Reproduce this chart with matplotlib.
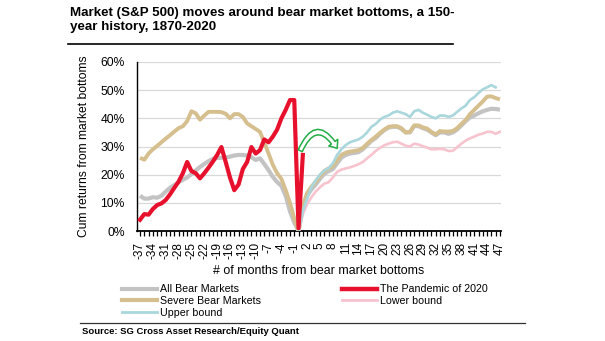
import numpy as np
import matplotlib
matplotlib.use("Agg")
import matplotlib.pyplot as plt
from matplotlib.lines import Line2D
from matplotlib.patches import FancyArrowPatch

plt.rcParams['font.family'] = ['Liberation Sans', 'DejaVu Sans']

# Months relative to the bear market bottom
months = np.arange(-37, 48)

# Cumulative returns (%) from the market bottom
all_bear = [12.5, 11.5, 11.5, 12.0, 11.8, 12.5, 14.0, 15.3, 16.3, 17.3,
            18.2, 19.0, 20.2, 21.5, 22.7, 23.8, 24.8, 25.6, 25.9, 26.0,
            26.1, 26.4, 26.8, 27.0, 27.0, 26.8, 26.2, 25.2, 25.8, 23.8,
            21.6, 19.2, 17.4, 16.0, 12.5, 7.0, 3.0, 0.0,
            8.0, 12.5, 14.8, 16.5, 18.5, 20.3, 21.2, 22.0, 24.0, 26.0,
            27.0, 27.5, 27.7, 28.0, 29.0, 30.5, 32.0, 33.0, 34.5, 35.8,
            36.7, 37.0, 37.0, 36.3, 35.0, 35.0, 37.3, 37.2, 36.5, 36.0,
            35.0, 34.0, 35.0, 35.0, 34.5, 35.0, 36.0, 37.5, 39.0, 40.3,
            41.0, 41.8, 42.5, 43.0, 43.4, 43.3, 43.1]

severe_bear = [26.0, 25.3, 27.5, 29.0, 30.2, 31.5, 32.8, 34.0, 35.3, 36.5,
               37.2, 39.0, 42.5, 41.8, 39.5, 41.0, 42.3, 42.3, 42.3, 42.2,
               41.6, 40.0, 41.5, 41.5, 40.5, 38.2, 37.2, 36.2, 35.2, 31.5,
               27.5, 23.5, 20.5, 18.5, 14.5, 10.0, 4.5, 0.0,
               9.0, 13.5, 15.7, 17.5, 19.5, 21.3, 22.2, 23.0, 25.0, 27.0,
               27.8, 28.2, 28.4, 28.7, 29.5, 31.0, 32.3, 33.5, 34.8, 36.0,
               37.0, 37.2, 37.2, 36.5, 35.0, 35.2, 37.5, 37.5, 36.8, 36.4,
               35.2, 34.3, 35.5, 35.3, 35.3, 35.5, 36.5, 38.0, 39.4, 41.5,
               43.0, 44.5, 46.0, 47.7, 47.8, 47.2, 46.7]

# 2020 path, from 37 months before the bottom to one month after
pandemic_months = np.arange(-37, 2)
pandemic_2020 = [4.0, 6.0, 5.8, 7.8, 9.2, 9.8, 11.0, 13.0, 15.3, 17.5,
                 20.5, 24.5, 21.3, 20.5, 18.7, 20.5, 22.5, 24.6, 27.0, 29.8,
                 24.5, 19.0, 14.5, 16.5, 22.0, 24.5, 29.8, 27.5, 28.7, 32.5,
                 31.5, 33.5, 36.0, 40.0, 43.0, 46.5, 46.5, 1.0, 27.0]

# Range of outcomes after the bottom
bound_months = np.arange(0, 48)
upper_bound = [0.0, 7.0, 11.5, 15.5, 18.0, 20.0, 21.5, 22.3, 24.0, 27.0,
               29.0, 30.5, 31.5, 32.0, 32.5, 33.5, 35.0, 37.0, 38.0, 39.5,
               40.5, 41.0, 42.0, 42.5, 42.0, 41.5, 40.5, 42.5, 43.0, 42.0,
               41.3, 40.5, 40.0, 41.0, 41.0, 40.5, 41.0, 42.3, 43.5, 44.5,
               46.5, 47.5, 49.0, 50.3, 51.0, 51.8, 51.0, np.nan]
lower_bound = [0.0, 6.0, 9.5, 12.0, 14.0, 15.5, 16.8, 17.3, 19.0, 21.0,
               21.8, 22.2, 22.6, 23.1, 23.7, 24.5, 25.8, 27.0, 28.4, 29.5,
               30.4, 31.0, 31.5, 31.7, 31.0, 30.3, 30.0, 31.0, 30.7, 30.1,
               29.6, 29.0, 29.0, 29.2, 29.0, 28.4, 28.5, 29.7, 31.0, 32.1,
               32.9, 33.5, 34.2, 34.6, 35.2, 35.2, 34.5, 35.2]

tick_months = np.arange(-37, 48, 3)

c_all = '#c3c3c3'
c_severe = '#d6bf8e'
c_pand = '#e8112d'
c_low = '#f7c3cf'
c_up = '#a9d7dc'
c_arrow = '#23ad46'

fig = plt.figure(figsize=(6.05, 3.41), dpi=100)
ax = fig.add_axes([137 / 605, 110 / 341, 364 / 605, 169 / 341])

ax.plot(months, all_bear, color=c_all, lw=3.0, solid_capstyle='butt', zorder=3)
ax.plot(months, severe_bear, color=c_severe, lw=2.8, solid_capstyle='butt', zorder=4)
ax.plot(bound_months, lower_bound, color=c_low, lw=1.9, zorder=5)
ax.plot(bound_months, upper_bound, color=c_up, lw=1.9, zorder=6)
ax.plot(pandemic_months, pandemic_2020, color=c_pand, lw=3.0, zorder=7)

# Curved hollow arrow showing the rebound
arrow = FancyArrowPatch((0.4, 28.5), (9.0, 29.3),
                        connectionstyle='arc3,rad=-0.95',
                        arrowstyle='simple,head_length=5,head_width=8,tail_width=3.2',
                        mutation_scale=1, shrinkA=0, shrinkB=0,
                        fc='white', ec=c_arrow, lw=1.1, zorder=8)
ax.add_patch(arrow)

ax.set_xlim(-37.7, 47.25)
ax.set_ylim(0, 60)
ax.set_yticks(np.arange(0, 61, 10))
ax.set_yticklabels([f'{v}%' for v in range(0, 61, 10)], fontsize=8.7)
ax.set_xticks(tick_months)
ax.set_xticklabels([str(m) for m in tick_months], rotation=90, fontsize=8.5)
ax.set_xticks(months, minor=True)
ax.tick_params(axis='x', which='both', direction='out', length=3.5, width=0.9,
               pad=4.5, color='black')
ax.tick_params(axis='y', length=0, pad=9)
ax.grid(axis='y', color='#d9d9d9', lw=0.9, zorder=0)
ax.set_axisbelow(True)
for s in ('top', 'right'):
    ax.spines[s].set_visible(False)
ax.spines['left'].set_linewidth(1.0)
ax.spines['bottom'].set_linewidth(1.3)

ax.set_ylabel('Cum returns from market bottoms', fontsize=8.7)
ax.yaxis.set_label_coords(-0.13, 0.5)
ax.set_xlabel('# of months from bear market bottoms', fontsize=8.9)
ax.xaxis.set_label_coords(0.5, -0.2)

# Legend in two columns
h1 = [Line2D([], [], color=c_all, lw=3.0),
      Line2D([], [], color=c_severe, lw=3.0),
      Line2D([], [], color=c_up, lw=2.0)]
h2 = [Line2D([], [], color=c_pand, lw=3.2),
      Line2D([], [], color=c_low, lw=2.0)]
leg_kw = dict(frameon=False, fontsize=7.7, handlelength=3.3, handletextpad=0.3,
              labelspacing=0.15, borderpad=0, borderaxespad=0, loc='upper left')
leg1 = fig.legend(h1, ['All Bear Markets', 'Severe Bear Markets', 'Upper bound'],
                  bbox_to_anchor=(122 / 605, 1 - 284.5 / 341), **leg_kw)
leg2 = fig.legend(h2, ['The Pandemic of 2020', 'Lower bound'],
                  bbox_to_anchor=(342 / 605, 1 - 284.5 / 341), **leg_kw)

fig.text(70 / 605, 1 - 7 / 341,
         'Market (S&P 500) moves around bear market bottoms, a 150-\nyear history, 1870-2020',
         fontsize=9.6, fontweight='bold', va='top', ha='left', linespacing=1.2)
fig.add_artist(Line2D([68 / 605, 453 / 605], [1 - 44 / 341, 1 - 44 / 341],
                      color='black', lw=1.2))
fig.add_artist(Line2D([80 / 605, 525 / 605], [1 - 322.5 / 341, 1 - 322.5 / 341],
                      color='#333333', lw=0.9))
fig.text(82 / 605, 1 - 331 / 341, 'Source: SG Cross Asset Research/Equity Quant',
         fontsize=6.8, fontweight='bold', va='center', ha='left')

fig.savefig('out.png', dpi=100)
